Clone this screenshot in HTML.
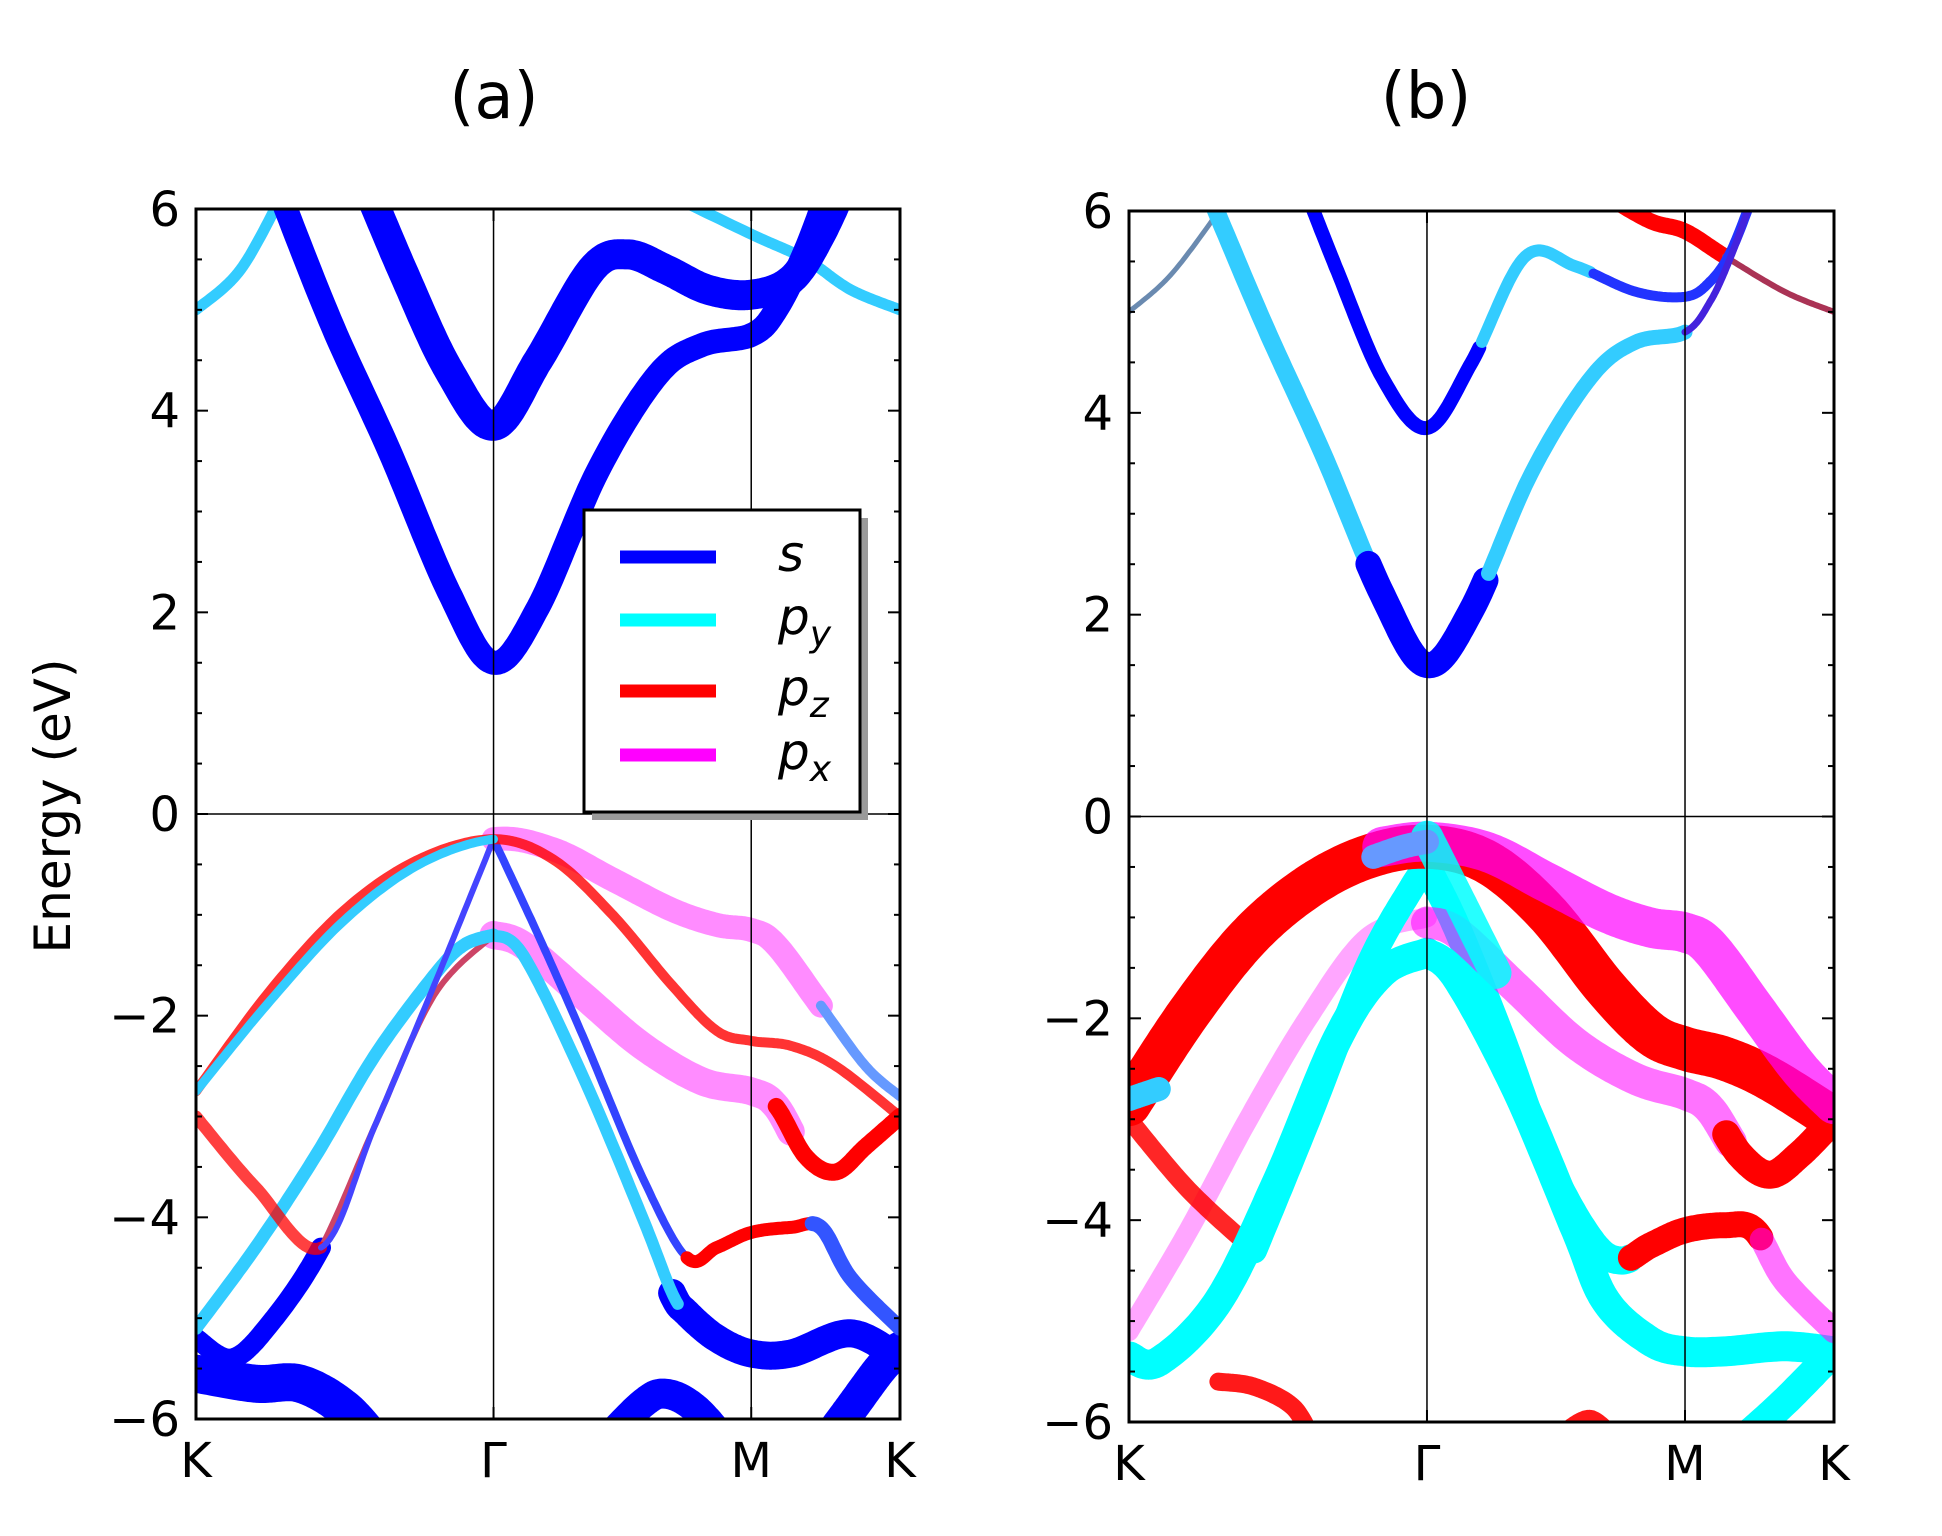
<!DOCTYPE html>
<html><head><meta charset="utf-8"><style>
html,body{margin:0;padding:0;background:#fff;}
svg{display:block;}
text{font-family:"DejaVu Sans","Liberation Sans",sans-serif;}
</style></head><body>
<svg id="chart" width="1942" height="1536" viewBox="0 0 1942 1536" xmlns="http://www.w3.org/2000/svg">
<defs>
<clipPath id="clipA"><rect x="196" y="209" width="704" height="1210"/></clipPath>
<clipPath id="clipB"><rect x="1129" y="211" width="705" height="1211"/></clipPath>
</defs>
<g id="panelA"></g>
<g id="panelB"></g>
</svg>
<script>
// high-symmetry points
const kLabels = ["K", "Γ", "M", "K"];
const kTicks = [0, 1, 1.866, 2.366];
const yTicks = [-6, -4, -2, 0, 2, 4, 6];

// ---- panel (a) bands: k positions and energies (eV) ----
const a_cb1_k = [0.55,0.7,0.85,1.0,1.15,1.33,1.45,1.58,1.72,1.866,2.0,2.1,2.2];
const a_cb1_e = [6.4,5.35,4.4,3.85,4.5,5.4,5.55,5.4,5.2,5.15,5.3,5.75,6.4];
const a_cb2_k = [0.25,0.45,0.65,0.85,1.0,1.15,1.35,1.55,1.7,1.866,1.95,2.05,2.15];
const a_cb2_e = [6.4,4.9,3.6,2.2,1.5,2.05,3.4,4.35,4.65,4.75,5.0,5.6,6.4];
const a_cyL_k = [0,0.15,0.3];
const a_cyL_e = [5.0,5.4,6.2];
const a_cyR_k = [1.62,1.866,2.05,2.2,2.366];
const a_cyR_e = [6.1,5.75,5.5,5.2,5.0];
const a_v1_k = [0,0.25,0.5,0.75,1.0,1.2,1.4,1.6,1.75,1.866,2.0,2.15,2.366];
const a_v1_e = [-2.75,-1.75,-0.95,-0.45,-0.25,-0.45,-1.0,-1.7,-2.15,-2.25,-2.3,-2.5,-3.0];
const a_v2_k = [0,0.25,0.5,0.75,1.0,1.2,1.4,1.6,1.75,1.866,1.95,2.1,2.25,2.366];
const a_v2_e = [-2.75,-1.85,-1.05,-0.5,-0.25,-0.35,-0.65,-0.95,-1.1,-1.15,-1.3,-1.9,-2.5,-2.8];
const a_v3_k = [0,0.2,0.42,0.6,0.8,1.0];
const a_v3_e = [-3.0,-3.7,-4.3,-3.1,-1.7,-0.25];
const a_v4_k = [0,0.2,0.4,0.6,0.8,0.9,1.0];
const a_v4_e = [-5.1,-4.3,-3.4,-2.4,-1.6,-1.3,-1.2];
const a_v5_k = [0,0.12,0.25,0.42,0.6,0.8,1.0];
const a_v5_e = [-5.2,-5.4,-5.05,-4.3,-3.1,-1.8,-1.2];
const a_v6_k = [1.0,1.15,1.3,1.5,1.65,1.75,1.866,2.0,2.1,2.2,2.366];
const a_v6_e = [-0.25,-1.2,-2.2,-3.6,-4.4,-4.3,-4.15,-4.1,-4.1,-4.6,-5.1];
const a_v7_k = [1.0,1.1,1.3,1.5,1.7,1.866,1.95,2.05,2.15,2.25,2.366];
const a_v7_e = [-1.2,-1.3,-1.8,-2.3,-2.65,-2.75,-2.9,-3.4,-3.55,-3.3,-3.0];
const a_v8_k = [1.0,1.1,1.3,1.5,1.6,1.65,1.75,1.866,2.0,2.2,2.366];
const a_v8_e = [-1.2,-1.4,-2.6,-4.0,-4.75,-4.95,-5.2,-5.35,-5.35,-5.15,-5.4];
const a_b1_k = [0,0.2,0.35,0.5,0.62];
const a_b1_e = [-5.55,-5.65,-5.65,-5.9,-6.3];
const a_b2_k = [1.35,1.5,1.58,1.68,1.8];
const a_b2_e = [-6.3,-5.85,-5.75,-5.9,-6.3];
const a_b3_k = [2.1,2.2,2.3,2.366];
const a_b3_e = [-6.3,-5.9,-5.5,-5.3];

// ---- panel (b) bands ----
const b_cb1_k = [0.58,0.7,0.85,1.0,1.15,1.33,1.5,1.7,1.866,1.95,2.02,2.1];
const b_cb1_e = [6.3,5.4,4.35,3.85,4.5,5.55,5.45,5.2,5.15,5.3,5.6,6.2];
const b_cb2_k = [0.25,0.45,0.65,0.85,1.0,1.15,1.35,1.55,1.7,1.866,1.95,2.02,2.1];
const b_cb2_e = [6.3,4.9,3.6,2.2,1.5,2.05,3.4,4.35,4.7,4.8,5.1,5.55,6.2];
const b_cyL_k = [0,0.15,0.35];
const b_cyL_e = [5.0,5.4,6.2];
const b_rdR_k = [1.6,1.75,1.866,2.0,2.2,2.366];
const b_rdR_e = [6.15,5.9,5.8,5.55,5.2,5.0];
const b_red_k = [0,0.2,0.4,0.6,0.8,1.0,1.2,1.4,1.6,1.75,1.866,2.0,2.15,2.366];
const b_red_e = [-2.85,-1.95,-1.2,-0.7,-0.4,-0.3,-0.45,-0.95,-1.7,-2.15,-2.3,-2.4,-2.6,-3.0];
const b_pk1_k = [0.85,1.0,1.2,1.4,1.6,1.75,1.866,1.95,2.1,2.25,2.366];
const b_pk1_e = [-0.3,-0.25,-0.35,-0.65,-0.95,-1.1,-1.15,-1.3,-1.9,-2.5,-2.85];
const b_cs_k = [1.0,1.1,1.25,1.4,1.55,1.65,1.75,1.866,2.0,2.1,2.2,2.366];
const b_cs_e = [-0.5,-1.1,-2.2,-3.4,-4.2,-4.4,-4.25,-4.1,-4.05,-4.1,-4.6,-5.1];
const b_stub_k = [1.0,1.12,1.23];
const b_stub_e = [-0.2,-0.9,-1.55];
const b_c2_k = [1.0,1.1,1.3,1.5,1.6,1.75,1.866,2.0,2.2,2.366];
const b_c2_e = [-1.35,-1.6,-2.7,-4.1,-4.8,-5.2,-5.3,-5.3,-5.25,-5.3];
const b_pk2_k = [1.0,1.1,1.3,1.5,1.7,1.866,1.95,2.05,2.15,2.25,2.366];
const b_pk2_e = [-1.05,-1.15,-1.7,-2.25,-2.6,-2.75,-2.9,-3.35,-3.55,-3.35,-3.0];
const b_cl_k = [0,0.1,0.3,0.5,0.7,0.85,1.0];
const b_cl_e = [-5.35,-5.4,-4.8,-3.6,-2.2,-1.55,-1.35];
const b_cl2_k = [0.42,0.6,0.8,0.95,1.0];
const b_cl2_e = [-4.3,-3.0,-1.5,-0.7,-0.5];
const b_pl_k = [0,0.2,0.4,0.6,0.8,1.0];
const b_pl_e = [-5.1,-4.1,-3.0,-2.0,-1.2,-1.0];
const b_rl_k = [0,0.2,0.42];
const b_rl_e = [-3.0,-3.7,-4.3];
const b_stub2_k = [0.82,0.92,1.0];
const b_stub2_e = [-0.4,-0.3,-0.25];
const b_stubK_k = [0,0.05,0.1];
const b_stubK_e = [-2.8,-2.75,-2.7];
const b_bt1_k = [2.05,2.2,2.366];
const b_bt1_e = [-6.2,-5.8,-5.3];
const b_bt2_k = [1.45,1.55,1.65];
const b_bt2_e = [-6.1,-5.95,-6.2];
const b_bt3_k = [0.3,0.42,0.55,0.62];
const b_bt3_e = [-5.6,-5.65,-5.85,-6.2];

const NS = "http://www.w3.org/2000/svg";
function makeAxes(x0, x1, y0, y1){
  const kx = k => x0 + (k/2.366)*(x1-x0);
  const ey = e => y0 + (6-e)/12*(y1-y0);
  return {kx, ey, x0, x1, y0, y1};
}
const AX_A = makeAxes(196, 900, 209, 1419);
const AX_B = makeAxes(1129, 1834, 211, 1422);

function densify(ks, es){
  const P = ks.map((k,i)=>[k, es[i]]);
  const out = [];
  for(let i=0;i<P.length-1;i++){
    const p0=P[Math.max(0,i-1)], p1=P[i], p2=P[i+1], p3=P[Math.min(P.length-1,i+2)];
    for(let t=0;t<1;t+=0.05){
      const t2=t*t, t3=t2*t;
      const f=(a,b,c,d)=>0.5*((2*b)+(-a+c)*t+(2*a-5*b+4*c-d)*t2+(-a+3*b-3*c+d)*t3);
      out.push([f(p0[0],p1[0],p2[0],p3[0]), f(p0[1],p1[1],p2[1],p3[1])]);
    }
  }
  out.push(P[P.length-1]);
  return out;
}
function band(g, ax, ks, es, kmin, kmax, color, width, opacity, name){
  const pts = densify(ks, es).filter(p => p[0] >= kmin-1e-9 && p[0] <= kmax+1e-9);
  if(pts.length < 2) return;
  const d = pts.map((p,i)=>(i?"L":"M")+ax.kx(p[0]).toFixed(1)+","+ax.ey(p[1]).toFixed(1)).join(" ");
  const path = document.createElementNS(NS, "path");
  path.setAttribute("d", d);
  path.setAttribute("fill", "none");
  path.setAttribute("stroke", color);
  path.setAttribute("stroke-width", width);
  path.setAttribute("stroke-linecap", "round");
  path.setAttribute("stroke-linejoin", "round");
  path.setAttribute("opacity", opacity);
  
  
  g.appendChild(path);
}
function el(parent, tag, attrs, text){
  const e = document.createElementNS(NS, tag);
  for(const k in attrs) e.setAttribute(k, attrs[k]);
  if(text !== undefined) e.textContent = text;
  parent.appendChild(e);
  return e;
}
function frame(g, ax, clipId, title, panelName){
  const bands = el(g, "g", {"clip-path": "url(#"+clipId+")"});
  
  
  [1, 1.866].forEach((k,i)=>{
    const l = el(g, "line", {x1:ax.kx(k), x2:ax.kx(k), y1:ax.y0, y2:ax.y1, stroke:"#000", "stroke-width":1.5});
    
    
  });
  const z = el(g, "line", {x1:ax.x0, x2:ax.x1, y1:ax.ey(0), y2:ax.ey(0), stroke:"#000", "stroke-width":1.5});
  
  
  return bands;
}
function decorate(g, ax, title, panelName, cx){
  const box = el(g, "rect", {x:ax.x0, y:ax.y0, width:ax.x1-ax.x0, height:ax.y1-ax.y0, fill:"none", stroke:"#000", "stroke-width":3});
  
  
  for(let e=-6; e<=6.001; e+=0.5){
    const y = ax.ey(e);
    const major = Math.abs(e/2 - Math.round(e/2)) < 1e-6;
    const L = major ? 12 : 6;
    const t1 = el(g, "line", {x1:ax.x0, x2:ax.x0+L, y1:y, y2:y, stroke:"#000", "stroke-width":2});
    
    
    const t2 = el(g, "line", {x1:ax.x1, x2:ax.x1-L, y1:y, y2:y, stroke:"#000", "stroke-width":2});
    
    
  }
  yTicks.forEach(v=>{
    const t = el(g, "text", {x:ax.x0-16, y:ax.ey(v)+17, "text-anchor":"end", "font-size":48}, (v<0?"−":"")+Math.abs(v));
    
    
  });
  kTicks.forEach((k,i)=>{
    const x = ax.kx(k);
    const a = el(g, "line", {x1:x, x2:x, y1:ax.y1, y2:ax.y1-12, stroke:"#000", "stroke-width":2});
    
    
    const b = el(g, "line", {x1:x, x2:x, y1:ax.y0, y2:ax.y0+12, stroke:"#000", "stroke-width":2});
    
    
    const t = el(g, "text", {x:x, y:ax.y1+58, "text-anchor":"middle", "font-size":48,
      "font-family": kLabels[i]==="Γ" ? "Liberation Serif, serif" : "DejaVu Sans, Liberation Sans, sans-serif"}, kLabels[i]);
    
    
  });
  const tt = el(g, "text", {x:cx, y:118, "text-anchor":"middle", "font-size":64}, title);
  
  
}

const BLUE="#0000ff", CYAN="#00ffff", CYB="#33ccff", RED="#ff0000", MAG="#ff00ff";

// ---------- panel A ----------
const gA = document.getElementById("panelA");
const bA = frame(gA, AX_A, "clipA", "(a)", "panel-a");
band(bA, AX_A, a_b1_k, a_b1_e, 0, 3, BLUE, 38, 1, "a-s-bottom-left");
band(bA, AX_A, a_b2_k, a_b2_e, 0, 3, BLUE, 30, 1, "a-s-bottom-mid");
band(bA, AX_A, a_b3_k, a_b3_e, 0, 3, BLUE, 34, 1, "a-s-bottom-right");
band(bA, AX_A, a_cyL_k, a_cyL_e, 0, 3, CYB, 11, 1, "a-py-cb-left");
band(bA, AX_A, a_cyR_k, a_cyR_e, 0, 3, CYB, 11, 1, "a-py-cb-right");
band(bA, AX_A, a_cb1_k, a_cb1_e, 0, 3, BLUE, 30, 1, "a-s-cb-upper");
band(bA, AX_A, a_cb2_k, a_cb2_e, 0, 3, BLUE, 24, 1, "a-s-cb-lower");
band(bA, AX_A, a_v7_k, a_v7_e, 1, 2.0, MAG, 28, 0.45, "a-px-vb-lower");
band(bA, AX_A, a_v7_k, a_v7_e, 1.95, 3, RED, 17, 1, "a-pz-vb-lower-end");
band(bA, AX_A, a_v2_k, a_v2_e, 1, 2.1, MAG, 24, 0.45, "a-px-vb-upper");
band(bA, AX_A, a_v2_k, a_v2_e, 2.1, 3, "#6699ff", 10, 1, "a-px-vb-upper-end");
band(bA, AX_A, a_v8_k, a_v8_e, 1.6, 3, BLUE, 28, 1, "a-s-vb-bottom");
band(bA, AX_A, a_v8_k, a_v8_e, 1, 1.62, CYB, 12, 1, "a-py-vb-right");
band(bA, AX_A, a_v6_k, a_v6_e, 1, 1.65, "#3344ff", 8, 1, "a-s-vb-steep");
band(bA, AX_A, a_v6_k, a_v6_e, 1.65, 2.07, RED, 13, 1, "a-pz-vb-mid");
band(bA, AX_A, a_v6_k, a_v6_e, 2.07, 3, "#3355ff", 15, 1, "a-s-vb-end");
band(bA, AX_A, a_v5_k, a_v5_e, 0, 0.42, BLUE, 20, 1, "a-s-vb-left");
band(bA, AX_A, a_v5_k, a_v5_e, 0.42, 1, "#cc4466", 6, 1, "a-pz-vb-left-thin");
band(bA, AX_A, a_v4_k, a_v4_e, 0, 1, CYB, 13, 1, "a-py-vb-left");
band(bA, AX_A, a_v3_k, a_v3_e, 0, 0.42, RED, 12, 0.75, "a-pz-vb-left");
band(bA, AX_A, a_v3_k, a_v3_e, 0.42, 1, "#4444ff", 6, 1, "a-s-vb-left-thin");
band(bA, AX_A, a_v1_k, a_v1_e, 0, 3, RED, 10, 0.8, "a-pz-vb-top");
band(bA, AX_A, a_v2_k, a_v2_e, 0, 1, CYB, 9, 1, "a-py-vb-top");
decorate(gA, AX_A, "(a)", "panel-a", 494);

// legend (panel a)
const leg = el(gA, "g", {});


const sh = el(leg, "rect", {x:592, y:518, width:276, height:302, fill:"#9a9a9a"});


const lb = el(leg, "rect", {x:584, y:510, width:276, height:302, fill:"#fff", stroke:"#000", "stroke-width":3});


const legendLabels = [["s",""],["p","y"],["p","z"],["p","x"]];
const legendColors = [BLUE, CYAN, RED, MAG];
const legendY = [557, 620, 691, 755];
legendLabels.forEach((lab,i)=>{
  const ln = el(leg, "line", {x1:620, x2:716, y1:legendY[i], y2:legendY[i], stroke:legendColors[i], "stroke-width":13});
  
  
  const t = el(leg, "text", {x:778, y:legendY[i]+14, "font-size":50, "font-style":"italic", "font-family":"DejaVu Serif, Liberation Serif, serif"});
  
  
  el(t, "tspan", {}, lab[0]);
  if(lab[1]) el(t, "tspan", {dy:12, "font-size":36}, lab[1]);
});

// ---------- panel B ----------
const gB = document.getElementById("panelB");
const bB = frame(gB, AX_B, "clipB", "(b)", "panel-b");
band(bB, AX_B, b_bt3_k, b_bt3_e, 0, 3, RED, 18, 0.9, "b-pz-bottom-left");
band(bB, AX_B, b_bt2_k, b_bt2_e, 0, 3, RED, 14, 0.9, "b-pz-bottom-mid");
band(bB, AX_B, b_bt1_k, b_bt1_e, 0, 3, CYAN, 30, 1, "b-py-bottom-right");
band(bB, AX_B, b_cyL_k, b_cyL_e, 0, 3, "#6a8ab0", 5, 1, "b-cb-left-thin");
band(bB, AX_B, b_rdR_k, b_rdR_e, 0, 2.0, RED, 16, 1, "b-pz-cb-right");
band(bB, AX_B, b_rdR_k, b_rdR_e, 2.0, 3, "#aa3355", 6, 1, "b-pz-cb-right-thin");
band(bB, AX_B, b_cb1_k, b_cb1_e, 0, 1.18, BLUE, 14, 1, "b-s-cb-upper");
band(bB, AX_B, b_cb1_k, b_cb1_e, 1.18, 1.55, CYB, 12, 1, "b-py-cb-upper");
band(bB, AX_B, b_cb1_k, b_cb1_e, 1.55, 3, "#2233ff", 10, 1, "b-s-cb-upper-end");
band(bB, AX_B, b_cb2_k, b_cb2_e, 0, 0.8, CYB, 18, 1, "b-py-cb-lower-left");
band(bB, AX_B, b_cb2_k, b_cb2_e, 0.8, 1.2, BLUE, 26, 1, "b-s-cb-lower");
band(bB, AX_B, b_cb2_k, b_cb2_e, 1.2, 1.866, CYB, 15, 1, "b-py-cb-lower-right");
band(bB, AX_B, b_cb2_k, b_cb2_e, 1.866, 3, "#4422dd", 7, 1, "b-cb-lower-end");
band(bB, AX_B, b_pl_k, b_pl_e, 0, 3, MAG, 20, 0.35, "b-px-vb-left");
band(bB, AX_B, b_rl_k, b_rl_e, 0, 3, RED, 18, 0.85, "b-pz-vb-left");
band(bB, AX_B, b_cl_k, b_cl_e, 0, 3, CYAN, 30, 1, "b-py-vb-left-outer");
band(bB, AX_B, b_cl2_k, b_cl2_e, 0, 3, CYAN, 26, 1, "b-py-vb-left-inner");
band(bB, AX_B, b_c2_k, b_c2_e, 0, 3, CYAN, 30, 1, "b-py-vb-right-lower");
band(bB, AX_B, b_cs_k, b_cs_e, 0, 1.68, CYAN, 28, 1, "b-py-vb-steep");
band(bB, AX_B, b_cs_k, b_cs_e, 1.68, 2.12, RED, 26, 1, "b-pz-vb-mid");
band(bB, AX_B, b_cs_k, b_cs_e, 2.12, 3, MAG, 24, 0.55, "b-px-vb-mid-end");
band(bB, AX_B, b_pk2_k, b_pk2_e, 1, 2.02, MAG, 32, 0.55, "b-px-vb-lower");
band(bB, AX_B, b_pk2_k, b_pk2_e, 2.0, 3, RED, 28, 1, "b-pz-vb-lower-end");
band(bB, AX_B, b_red_k, b_red_e, 0, 3, RED, 44, 1, "b-pz-vb-top");
band(bB, AX_B, b_pk1_k, b_pk1_e, 0, 3, MAG, 40, 0.7, "b-px-vb-top");
band(bB, AX_B, b_stub_k, b_stub_e, 0, 3, CYAN, 32, 0.85, "b-py-stub");
band(bB, AX_B, b_stub2_k, b_stub2_e, 0, 3, "#6699ff", 24, 1, "b-mixed-stub");
band(bB, AX_B, b_stubK_k, b_stubK_e, 0, 3, CYB, 24, 1, "b-py-stub-k");
decorate(gB, AX_B, "(b)", "panel-b", 1426);

// y-axis title
const yl = el(document.getElementById("chart"), "text", {x:0, y:0, "font-size":50, "text-anchor":"middle",
  transform:"translate(70,806) rotate(-90)"}, "Energy (eV)");


</script>
</body></html>
